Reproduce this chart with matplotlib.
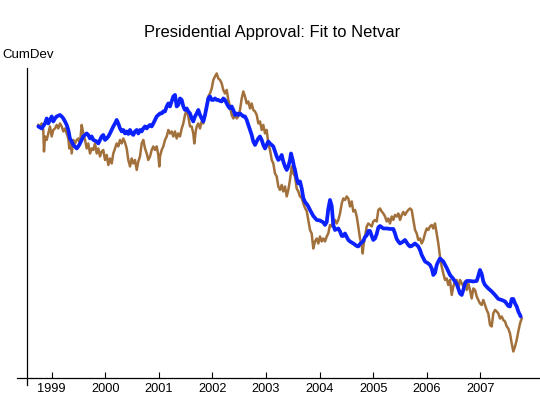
import matplotlib
matplotlib.use("Agg")
import matplotlib.pyplot as plt

plt.rcParams['font.family'] = ['Liberation Sans', 'DejaVu Sans']

# approval (observed), decimal years
approval_t = [1998.750, 1998.782, 1998.813, 1998.843, 1998.856, 1998.875, 1998.907, 1998.937, 1998.968, 1999.000,
              1999.030, 1999.062, 1999.093, 1999.123, 1999.155, 1999.187, 1999.217, 1999.248, 1999.280, 1999.310,
              1999.329, 1999.355, 1999.373, 1999.403, 1999.435, 1999.467, 1999.497, 1999.528, 1999.560, 1999.590,
              1999.622, 1999.653, 1999.683, 1999.715, 1999.747, 1999.777, 1999.808, 1999.840, 1999.870, 1999.902,
              1999.933, 1999.963, 1999.995, 2000.027, 2000.057, 2000.088, 2000.120, 2000.150, 2000.182, 2000.213,
              2000.243, 2000.275, 2000.307, 2000.337, 2000.368, 2000.400, 2000.430, 2000.462, 2000.493, 2000.523,
              2000.555, 2000.587, 2000.617, 2000.648, 2000.680, 2000.710, 2000.742, 2000.773, 2000.803, 2000.835,
              2000.867, 2000.897, 2000.928, 2000.960, 2000.990, 2001.009, 2001.022, 2001.053, 2001.083, 2001.115,
              2001.147, 2001.177, 2001.208, 2001.240, 2001.270, 2001.302, 2001.333, 2001.363, 2001.395, 2001.427,
              2001.457, 2001.488, 2001.520, 2001.550, 2001.582, 2001.613, 2001.643, 2001.662, 2001.688, 2001.707,
              2001.737, 2001.768, 2001.800, 2001.830, 2001.862, 2001.893, 2001.923, 2001.955, 2001.987, 2002.017,
              2002.048, 2002.080, 2002.110, 2002.142, 2002.173, 2002.203, 2002.235, 2002.267, 2002.297, 2002.328,
              2002.360, 2002.390, 2002.422, 2002.453, 2002.483, 2002.515, 2002.547, 2002.577, 2002.608, 2002.640,
              2002.670, 2002.702, 2002.733, 2002.763, 2002.795, 2002.827, 2002.857, 2002.888, 2002.920, 2002.950,
              2002.982, 2003.013, 2003.043, 2003.075, 2003.107, 2003.137, 2003.168, 2003.200, 2003.230, 2003.262,
              2003.293, 2003.323, 2003.355, 2003.387, 2003.417, 2003.448, 2003.480, 2003.510, 2003.542, 2003.573,
              2003.603, 2003.635, 2003.667, 2003.697, 2003.728, 2003.760, 2003.790, 2003.822, 2003.853, 2003.883,
              2003.915, 2003.947, 2003.977, 2004.008, 2004.040, 2004.070, 2004.102, 2004.134, 2004.163, 2004.195,
              2004.227, 2004.257, 2004.288, 2004.320, 2004.350, 2004.382, 2004.414, 2004.443, 2004.475, 2004.507,
              2004.537, 2004.568, 2004.600, 2004.630, 2004.662, 2004.694, 2004.723, 2004.755, 2004.787, 2004.806,
              2004.817, 2004.848, 2004.880, 2004.910, 2004.942, 2004.974, 2005.003, 2005.035, 2005.067, 2005.097,
              2005.128, 2005.160, 2005.190, 2005.222, 2005.254, 2005.283, 2005.315, 2005.347, 2005.377, 2005.408,
              2005.440, 2005.470, 2005.502, 2005.534, 2005.563, 2005.595, 2005.627, 2005.657, 2005.688, 2005.720,
              2005.750, 2005.782, 2005.814, 2005.843, 2005.875, 2005.907, 2005.937, 2005.968, 2006.000, 2006.030,
              2006.062, 2006.094, 2006.123, 2006.155, 2006.187, 2006.217, 2006.248, 2006.280, 2006.310, 2006.342,
              2006.374, 2006.403, 2006.435, 2006.467, 2006.497, 2006.528, 2006.560, 2006.590, 2006.622, 2006.654,
              2006.683, 2006.715, 2006.747, 2006.777, 2006.808, 2006.840, 2006.870, 2006.902, 2006.934, 2006.963,
              2006.995, 2007.027, 2007.057, 2007.088, 2007.120, 2007.150, 2007.182, 2007.214, 2007.243, 2007.275,
              2007.307, 2007.337, 2007.368, 2007.400, 2007.430, 2007.462, 2007.494, 2007.523, 2007.555, 2007.587,
              2007.617, 2007.649, 2007.680, 2007.710, 2007.742, 2007.774]
approval_v = [25.0, 24.7, 25.3, 24.0, 19.7, 22.7, 22.0, 23.3, 24.7, 22.7,
              24.0, 24.3, 25.0, 24.3, 25.3, 24.7, 23.7, 24.3, 23.3, 22.3,
              20.3, 22.0, 19.3, 22.0, 21.3, 22.0, 22.3, 21.3, 25.0, 23.3,
              22.0, 20.3, 21.3, 19.3, 20.3, 20.0, 21.3, 19.3, 20.3, 18.7,
              19.7, 20.0, 18.0, 19.0, 17.0, 18.3, 17.3, 19.3, 20.3, 21.3,
              20.7, 22.0, 21.3, 22.3, 21.5, 20.3, 18.0, 16.7, 18.3, 17.3,
              18.0, 16.0, 17.7, 18.7, 21.3, 22.0, 20.3, 19.3, 18.0, 18.7,
              20.0, 20.7, 20.0, 20.7, 19.0, 16.7, 18.7, 20.0, 20.7, 22.0,
              22.7, 24.0, 23.3, 23.7, 22.7, 23.7, 22.3, 23.3, 22.7, 24.3,
              25.3, 27.0, 28.0, 26.7, 24.7, 24.7, 23.3, 21.3, 23.7, 24.7,
              25.3, 24.3, 25.7, 25.3, 27.0, 28.7, 30.7, 31.3, 32.3, 34.0,
              34.7, 35.3, 34.3, 34.0, 33.3, 32.0, 31.3, 32.0, 30.0, 28.7,
              27.0, 26.3, 27.0, 26.3, 26.7, 28.0, 30.3, 31.7, 30.7, 29.3,
              29.7, 28.3, 29.3, 28.0, 27.7, 27.0, 25.3, 25.7, 24.0, 25.0,
              23.3, 24.0, 21.3, 20.0, 18.0, 17.3, 15.3, 14.7, 12.7, 12.0,
              13.0, 11.7, 12.7, 10.7, 12.0, 14.0, 16.7, 15.3, 14.7, 12.3,
              11.7, 10.7, 10.4, 9.3, 8.4, 7.8, 6.0, 4.0, 3.3, 0.3,
              1.7, 2.3, 1.3, 2.7, 1.7, 2.3, 1.7, 2.7, 3.3, 5.0,
              4.7, 5.7, 6.0, 5.3, 6.0, 7.3, 9.3, 10.3, 10.0, 10.7,
              10.3, 8.7, 9.7, 7.7, 8.0, 6.7, 4.7, 2.3, 1.0, -0.7,
              0.7, 2.7, 4.7, 5.3, 5.0, 4.7, 5.7, 6.0, 5.7, 8.0,
              8.3, 7.7, 7.3, 6.7, 5.7, 6.3, 5.3, 6.7, 6.0, 7.0,
              6.7, 7.3, 6.0, 7.0, 7.6, 7.0, 7.6, 8.0, 8.3, 8.0,
              6.0, 4.0, 3.3, 2.0, 2.3, 1.3, 2.0, 3.3, 4.3, 4.0,
              4.7, 5.0, 4.3, 5.3, 3.3, 1.3, -1.3, -3.3, -4.7, -6.0,
              -5.7, -7.0, -6.0, -9.0, -7.3, -6.3, -6.0, -7.7, -6.0, -6.7,
              -7.3, -6.3, -8.0, -6.7, -8.0, -9.7, -7.7, -8.0, -9.3, -10.0,
              -10.7, -11.0, -10.0, -11.0, -12.0, -12.7, -15.0, -15.3, -12.7, -12.0,
              -12.3, -12.7, -13.7, -13.3, -14.0, -14.3, -15.3, -15.7, -16.7, -18.7,
              -20.3, -19.3, -18.0, -16.3, -14.7, -13.7]

# fitted from netvar
fit_t = [1998.750, 1998.813, 1998.875, 1998.907, 1998.937, 1998.968, 1999.000, 1999.030, 1999.062, 1999.093,
         1999.155, 1999.187, 1999.217, 1999.248, 1999.280, 1999.310, 1999.340, 1999.373, 1999.403, 1999.467,
         1999.497, 1999.528, 1999.560, 1999.590, 1999.622, 1999.653, 1999.683, 1999.715, 1999.747, 1999.777,
         1999.840, 1999.870, 1999.902, 1999.933, 1999.963, 1999.995, 2000.027, 2000.057, 2000.088, 2000.120,
         2000.150, 2000.182, 2000.213, 2000.243, 2000.275, 2000.307, 2000.337, 2000.368, 2000.400, 2000.430,
         2000.462, 2000.493, 2000.523, 2000.555, 2000.587, 2000.617, 2000.648, 2000.680, 2000.710, 2000.742,
         2000.773, 2000.803, 2000.835, 2000.867, 2000.897, 2000.928, 2000.960, 2000.990, 2001.022, 2001.053,
         2001.083, 2001.115, 2001.147, 2001.177, 2001.208, 2001.240, 2001.270, 2001.302, 2001.315, 2001.333,
         2001.363, 2001.395, 2001.427, 2001.457, 2001.488, 2001.520, 2001.550, 2001.582, 2001.613, 2001.643,
         2001.675, 2001.707, 2001.737, 2001.768, 2001.800, 2001.830, 2001.862, 2001.893, 2001.923, 2001.955,
         2001.987, 2002.017, 2002.048, 2002.080, 2002.110, 2002.142, 2002.173, 2002.203, 2002.235, 2002.267,
         2002.297, 2002.328, 2002.360, 2002.390, 2002.422, 2002.453, 2002.483, 2002.515, 2002.547, 2002.577,
         2002.608, 2002.640, 2002.670, 2002.702, 2002.733, 2002.763, 2002.795, 2002.827, 2002.857, 2002.888,
         2002.920, 2002.950, 2002.982, 2003.013, 2003.043, 2003.075, 2003.107, 2003.137, 2003.168, 2003.200,
         2003.230, 2003.262, 2003.293, 2003.323, 2003.355, 2003.387, 2003.417, 2003.448, 2003.467, 2003.499,
         2003.523, 2003.542, 2003.573, 2003.603, 2003.635, 2003.667, 2003.697, 2003.728, 2003.760, 2003.790,
         2003.822, 2003.883, 2003.947, 2004.008, 2004.070, 2004.102, 2004.134, 2004.163, 2004.195, 2004.227,
         2004.257, 2004.288, 2004.350, 2004.382, 2004.414, 2004.443, 2004.475, 2004.507, 2004.537, 2004.568,
         2004.630, 2004.694, 2004.723, 2004.755, 2004.817, 2004.848, 2004.880, 2004.910, 2004.942, 2004.974,
         2005.003, 2005.035, 2005.067, 2005.097, 2005.128, 2005.190, 2005.254, 2005.315, 2005.377, 2005.408,
         2005.440, 2005.470, 2005.502, 2005.563, 2005.595, 2005.657, 2005.688, 2005.720, 2005.782, 2005.843,
         2005.875, 2005.907, 2005.968, 2006.030, 2006.062, 2006.094, 2006.123, 2006.155, 2006.187, 2006.217,
         2006.248, 2006.310, 2006.374, 2006.435, 2006.497, 2006.560, 2006.622, 2006.654, 2006.683, 2006.715,
         2006.747, 2006.808, 2006.870, 2006.934, 2006.963, 2006.995, 2007.027, 2007.057, 2007.088, 2007.150,
         2007.214, 2007.275, 2007.337, 2007.400, 2007.462, 2007.523, 2007.555, 2007.587, 2007.617, 2007.649,
         2007.680, 2007.710, 2007.755]
fit_v = [24.7, 24.3, 25.3, 26.3, 25.3, 26.0, 26.7, 25.7, 26.3, 26.7,
         27.0, 26.7, 26.3, 25.7, 25.0, 24.0, 22.3, 21.7, 21.0, 20.3,
         20.7, 21.3, 22.0, 22.7, 23.0, 23.3, 23.0, 22.3, 22.7, 22.0,
         21.7, 21.3, 22.0, 22.7, 23.0, 22.0, 22.3, 22.7, 23.3, 24.0,
         24.7, 25.3, 26.0, 25.3, 24.3, 23.7, 24.0, 23.3, 23.7, 23.2,
         24.0, 23.3, 23.0, 23.7, 24.0, 23.3, 24.0, 23.7, 24.3, 24.7,
         24.3, 24.7, 25.0, 24.7, 25.3, 26.0, 26.7, 27.0, 27.3, 27.3,
         27.7, 27.7, 28.7, 29.3, 28.7, 29.7, 30.7, 31.0, 30.0, 28.7,
         29.0, 30.3, 30.0, 28.7, 28.0, 28.3, 27.7, 27.3, 26.3, 25.7,
         26.7, 27.3, 28.0, 27.0, 26.3, 25.7, 27.0, 28.7, 30.3, 30.7,
         30.0, 30.0, 30.3, 30.0, 30.0, 29.8, 29.7, 30.3, 30.0, 29.3,
         28.7, 28.3, 28.7, 28.0, 27.0, 27.3, 27.0, 27.3, 27.0, 26.7,
         26.7, 26.0, 25.0, 24.0, 23.0, 21.7, 21.0, 21.7, 22.3, 22.7,
         22.0, 21.0, 20.3, 21.0, 21.7, 21.3, 21.0, 20.7, 19.7, 18.7,
         18.0, 18.3, 19.0, 17.7, 16.7, 16.0, 16.7, 18.0, 19.3, 18.0,
         16.7, 16.0, 14.3, 13.3, 13.7, 12.3, 10.4, 9.6, 9.2, 8.7,
         8.0, 6.8, 6.0, 5.9, 5.5, 5.0, 5.6, 8.2, 10.0, 8.8,
         5.0, 4.0, 4.3, 3.7, 2.8, 2.8, 3.3, 2.6, 2.0, 1.7,
         1.3, 0.8, 0.7, 1.2, 1.8, 2.6, 2.9, 3.8, 3.8, 2.8,
         2.0, 2.3, 3.2, 4.5, 4.8, 4.3, 4.3, 4.2, 4.2, 3.3,
         2.2, 1.7, 1.3, 1.7, 2.0, 1.0, 0.7, 0.8, 1.3, 0.7,
         0.0, -1.0, -2.3, -2.7, -3.0, -3.7, -5.0, -4.6, -3.0, -2.3,
         -1.7, -2.3, -3.6, -5.0, -5.8, -6.8, -8.7, -9.0, -8.0, -6.7,
         -6.2, -6.2, -6.3, -6.2, -5.2, -4.0, -4.8, -6.3, -7.0, -7.7,
         -8.3, -9.0, -9.8, -10.0, -10.3, -11.2, -11.3, -9.8, -9.8, -10.7,
         -11.3, -12.3, -13.3]

years = [1999, 2000, 2001, 2002, 2003, 2004, 2005, 2006, 2007]

fig = plt.figure(figsize=(5.4, 3.98), dpi=100)
ax = fig.add_axes([0.05, 0.0503, 0.95, 0.779])

ax.plot(approval_t, approval_v, color='#a2703b', linewidth=1.8, solid_joinstyle='round')
ax.plot(fit_t, fit_v, color='#0b22ff', linewidth=2.7, solid_joinstyle='round', solid_capstyle='round')

ax.set_xlim(1998.539, 2008.115)
ax.set_ylim(-25.6, 36.4)

for s in ax.spines.values():
    s.set_visible(False)
# axis lines drawn by hand, x axis sticks out left, y axis sticks out below
ax.plot([-0.0195, 1.0], [0, 0], transform=ax.transAxes, color='black', linewidth=0.9, clip_on=False)
ax.plot([0, 0], [-0.022, 1.0], transform=ax.transAxes, color='black', linewidth=0.9, clip_on=False)

ax.set_xticks(years)
ax.set_xticklabels([str(y) for y in years])
ax.tick_params(axis='x', direction='in', length=4.3, width=0.8, pad=3.5, labelsize=9.2)
ax.set_yticks([])

fig.text(272.5 / 540, 1 - 36.7 / 398, "Presidential Approval: Fit to Netvar", ha='center', va='baseline', fontsize=11.9)
fig.text(2 / 540, 1 - 58 / 398, "CumDev", ha='left', va='baseline', fontsize=9.5)

plt.savefig('out.png', dpi=100)
